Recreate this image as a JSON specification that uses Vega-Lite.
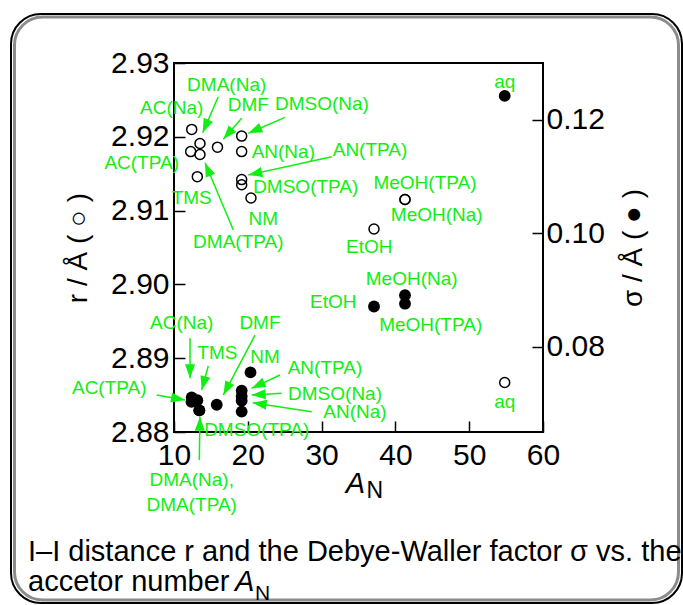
{
  "$schema": "https://vega.github.io/schema/vega-lite/v6.json",
  "width": 369,
  "height": 369,
  "autosize": {"type": "none"},
  "padding": {"left": 174, "top": 63, "right": 140, "bottom": 173},
  "background": "white",
  "config": {
    "font": "Liberation Sans",
    "view": {"stroke": "black", "strokeWidth": 2},
    "axis": {
      "domain": false, "grid": false,
      "labelFont": "Liberation Sans", "labelFontSize": 30, "labelColor": "black",
      "tickColor": "black", "tickWidth": 1.5, "tickSize": -11,
      "labelOverlap": false, "labelFlush": false,
      "titleFont": "Liberation Sans", "titleFontSize": 28, "titleFontWeight": "normal", "titleColor": "black"
    }
  },
  "datasets": {
    "one": [{}],
    "open": [
      {"solvent": "AC(Na)", "AN": 12.40, "r": 2.9210},
      {"solvent": "AC(TPA)", "AN": 12.26, "r": 2.9180},
      {"solvent": "DMA(Na)", "AN": 13.52, "r": 2.9191},
      {"solvent": "DMA(TPA)", "AN": 13.52, "r": 2.9176},
      {"solvent": "TMS", "AN": 13.16, "r": 2.9146},
      {"solvent": "DMF", "AN": 15.89, "r": 2.9186},
      {"solvent": "DMSO(Na)", "AN": 19.17, "r": 2.9201},
      {"solvent": "AN(Na)", "AN": 19.17, "r": 2.9180},
      {"solvent": "AN(TPA)", "AN": 19.17, "r": 2.9142},
      {"solvent": "DMSO(TPA)", "AN": 19.17, "r": 2.9135},
      {"solvent": "NM", "AN": 20.43, "r": 2.9117},
      {"solvent": "EtOH", "AN": 37.10, "r": 2.9075},
      {"solvent": "MeOH(Na)", "AN": 41.30, "r": 2.9115},
      {"solvent": "MeOH(TPA)", "AN": 41.30, "r": 2.9115},
      {"solvent": "aq", "AN": 54.81, "r": 2.8867}
    ],
    "filled": [
      {"solvent": "AC(Na)", "AN": 12.40, "sigma": 0.0711},
      {"solvent": "AC(TPA)", "AN": 12.37, "sigma": 0.0703},
      {"solvent": "TMS", "AN": 13.16, "sigma": 0.0706},
      {"solvent": "DMA(Na)", "AN": 13.43, "sigma": 0.0688},
      {"solvent": "DMA(TPA)", "AN": 13.43, "sigma": 0.0688},
      {"solvent": "DMF", "AN": 15.79, "sigma": 0.0698},
      {"solvent": "AN(TPA)", "AN": 19.17, "sigma": 0.0723},
      {"solvent": "DMSO(Na)", "AN": 19.17, "sigma": 0.0713},
      {"solvent": "AN(Na)", "AN": 19.17, "sigma": 0.0705},
      {"solvent": "DMSO(TPA)", "AN": 19.17, "sigma": 0.0686},
      {"solvent": "NM", "AN": 20.37, "sigma": 0.0755},
      {"solvent": "EtOH", "AN": 37.10, "sigma": 0.0871},
      {"solvent": "MeOH(Na)", "AN": 41.30, "sigma": 0.0891},
      {"solvent": "MeOH(TPA)", "AN": 41.30, "sigma": 0.0876},
      {"solvent": "aq", "AN": 54.81, "sigma": 0.1242}
    ],
    "labels": [
      {"text": "DMA(Na)", "x": 17.14, "y": 2.92702},
      {"text": "AC(Na)", "x": 9.69, "y": 2.92386},
      {"text": "DMF", "x": 20.07, "y": 2.92431},
      {"text": "DMSO(Na)", "x": 30.05, "y": 2.92444},
      {"text": "AC(TPA)", "x": 5.62, "y": 2.91641},
      {"text": "AN(Na)", "x": 24.81, "y": 2.91798},
      {"text": "AN(TPA)", "x": 36.56, "y": 2.91821},
      {"text": "DMSO(TPA)", "x": 27.85, "y": 2.91324},
      {"text": "TMS", "x": 12.40, "y": 2.91167},
      {"text": "NM", "x": 22.10, "y": 2.90886},
      {"text": "DMA(TPA)", "x": 18.71, "y": 2.90579},
      {"text": "MeOH(TPA)", "x": 44.01, "y": 2.91370},
      {"text": "MeOH(Na)", "x": 45.60, "y": 2.90940},
      {"text": "EtOH", "x": 36.46, "y": 2.90511},
      {"text": "aq", "x": 54.81, "y": 2.88411},
      {"text": "aq", "x": 54.81, "y": 2.92747},
      {"text": "MeOH(Na)", "x": 42.21, "y": 2.90069},
      {"text": "EtOH", "x": 31.59, "y": 2.89766},
      {"text": "MeOH(TPA)", "x": 44.78, "y": 2.89450},
      {"text": "AC(Na)", "x": 11.04, "y": 2.89473},
      {"text": "TMS", "x": 15.87, "y": 2.89066},
      {"text": "DMF", "x": 21.65, "y": 2.89473},
      {"text": "NM", "x": 22.33, "y": 2.89012},
      {"text": "AN(TPA)", "x": 30.46, "y": 2.88867},
      {"text": "DMSO(Na)", "x": 31.82, "y": 2.88515},
      {"text": "AN(Na)", "x": 34.53, "y": 2.88271},
      {"text": "AC(TPA)", "x": 1.23, "y": 2.88592},
      {"text": "DMSO(TPA)", "x": 21.21, "y": 2.88027},
      {"text": "DMA(Na),", "x": 12.40, "y": 2.87350},
      {"text": "DMA(TPA)", "x": 12.40, "y": 2.87011}
    ],
    "arrows": [
      {"x": 16.00, "y": 2.92543, "x2": 13.89, "y2": 2.92056, "angle": 203.4},
      {"x": 19.17, "y": 2.92251, "x2": 16.68, "y2": 2.91966, "angle": 221.2},
      {"x": 25.04, "y": 2.92264, "x2": 20.07, "y2": 2.92047, "angle": 246.4},
      {"x": 31.37, "y": 2.91730, "x2": 20.07, "y2": 2.91482, "angle": 257.6},
      {"x": 18.04, "y": 2.90737, "x2": 14.20, "y2": 2.91649, "angle": 337.2},
      {"x": 12.17, "y": 2.89270, "x2": 12.17, "y2": 2.88728, "angle": 180},
      {"x": 14.65, "y": 2.88894, "x2": 13.75, "y2": 2.88569, "angle": 195.4},
      {"x": 20.98, "y": 2.89314, "x2": 16.68, "y2": 2.88501, "angle": 207.8},
      {"x": 24.36, "y": 2.88772, "x2": 20.53, "y2": 2.88592, "angle": 244.8},
      {"x": 24.59, "y": 2.88524, "x2": 20.53, "y2": 2.88501, "angle": 266.8},
      {"x": 28.66, "y": 2.88275, "x2": 20.66, "y2": 2.88397, "angle": 278.7},
      {"x": 7.66, "y": 2.88501, "x2": 11.49, "y2": 2.88434, "angle": 100.0},
      {"x": 13.43, "y": 2.87621, "x2": 13.52, "y2": 2.88207, "angle": 0.9}
    ]
  },
  "layer": [
    {
      "layer": [
        {
          "data": {"name": "open"},
          "mark": {"type": "point", "shape": "circle", "filled": false, "stroke": "black", "strokeWidth": 1.5, "size": 100, "opacity": 1},
          "encoding": {
            "x": {
              "field": "AN", "type": "quantitative",
              "scale": {"domain": [10, 60], "nice": false, "zero": false},
              "axis": {"values": [10, 20, 30, 40, 50, 60], "labelPadding": 19, "title": null}
            },
            "y": {
              "field": "r", "type": "quantitative",
              "scale": {"domain": [2.88, 2.93], "nice": false, "zero": false},
              "axis": {"values": [2.88, 2.89, 2.9, 2.91, 2.92, 2.93], "format": ".2f", "labelPadding": 16, "title": "r / Å ( ○ )", "titlePadding": 18}
            }
          }
        },
        {
          "data": {"name": "one"},
          "mark": {"type": "rect", "filled": false, "stroke": "black", "strokeWidth": 2, "cornerRadius": 30},
          "encoding": {
            "x": {"datum": -12.087},
            "x2": {"datum": 78.835},
            "y": {"datum": 2.93664},
            "y2": {"datum": 2.856829}
          }
        },
        {
          "data": {"name": "one"},
          "mark": {"type": "rect", "filled": false, "stroke": "#8c8c8c", "strokeWidth": 3, "cornerRadius": 28},
          "encoding": {
            "x": {"datum": -11.612},
            "x2": {"datum": 78.360},
            "y": {"datum": 2.936233},
            "y2": {"datum": 2.857236}
          }
        },
        {
          "data": {"name": "arrows"},
          "mark": {"type": "rule", "color": "#11ee11", "strokeWidth": 1.5},
          "encoding": {
            "x": {"field": "x", "type": "quantitative"},
            "y": {"field": "y", "type": "quantitative"},
            "x2": {"field": "x2"},
            "y2": {"field": "y2"}
          }
        },
        {
          "data": {"name": "arrows"},
          "mark": {"type": "point", "shape": "M0,0L-0.36,1L0.36,1Z", "filled": true, "color": "#11ee11", "strokeWidth": 0, "size": 784, "opacity": 1},
          "encoding": {
            "x": {"field": "x2", "type": "quantitative"},
            "y": {"field": "y2", "type": "quantitative"},
            "angle": {"field": "angle", "type": "quantitative", "scale": null}
          }
        },
        {
          "data": {"name": "labels"},
          "mark": {"type": "text", "color": "#11ee11", "fontSize": 19, "font": "Liberation Sans", "align": "center", "baseline": "middle"},
          "encoding": {
            "x": {"field": "x", "type": "quantitative"},
            "y": {"field": "y", "type": "quantitative"},
            "text": {"field": "text"}
          }
        },
        {
          "data": {"name": "one"},
          "mark": {"type": "text", "fontSize": 29, "fontStyle": "italic", "align": "center", "baseline": "alphabetic", "dx": -3, "color": "black"},
          "encoding": {
            "x": {"datum": 35},
            "y": {"datum": 2.87173},
            "text": {"value": "A"}
          }
        },
        {
          "data": {"name": "one"},
          "mark": {"type": "text", "fontSize": 23, "align": "left", "baseline": "alphabetic", "dx": 8, "dy": 5, "color": "black"},
          "encoding": {
            "x": {"datum": 35},
            "y": {"datum": 2.87173},
            "text": {"value": "N"}
          }
        },
        {
          "data": {"name": "one"},
          "mark": {"type": "text", "fontSize": 29, "align": "left", "baseline": "alphabetic", "color": "black"},
          "encoding": {
            "x": {"datum": -9.783},
            "y": {"datum": 2.86252},
            "text": {"value": "I–I distance r and the Debye-Waller factor σ vs. the"}
          }
        },
        {
          "data": {"name": "one"},
          "mark": {"type": "text", "fontSize": 29, "align": "left", "baseline": "alphabetic", "color": "black"},
          "encoding": {
            "x": {"datum": -9.783},
            "y": {"datum": 2.858455},
            "text": {"value": "accetor number"}
          }
        },
        {
          "data": {"name": "one"},
          "mark": {"type": "text", "fontSize": 29, "fontStyle": "italic", "align": "left", "baseline": "alphabetic", "color": "black"},
          "encoding": {
            "x": {"datum": 18.27},
            "y": {"datum": 2.858455},
            "text": {"value": "A"}
          }
        },
        {
          "data": {"name": "one"},
          "mark": {"type": "text", "fontSize": 21, "align": "left", "baseline": "alphabetic", "color": "black"},
          "encoding": {
            "x": {"datum": 20.976},
            "y": {"datum": 2.857236},
            "text": {"value": "N"}
          }
        }
      ]
    },
    {
      "data": {"name": "filled"},
      "mark": {"type": "point", "shape": "circle", "filled": true, "color": "black", "size": 140, "opacity": 1},
      "encoding": {
        "x": {"field": "AN", "type": "quantitative", "scale": {"domain": [10, 60], "nice": false, "zero": false}},
        "y": {
          "field": "sigma", "type": "quantitative",
          "scale": {"domain": [0.065, 0.13], "nice": false, "zero": false},
          "axis": {"orient": "right", "values": [0.08, 0.1, 0.12], "format": ".2f", "labelPadding": 14, "title": "σ / Å ( ● )", "titleAngle": 270, "titleBaseline": "top", "titlePadding": 15}
        }
      }
    }
  ],
  "resolve": {"scale": {"y": "independent"}}
}
